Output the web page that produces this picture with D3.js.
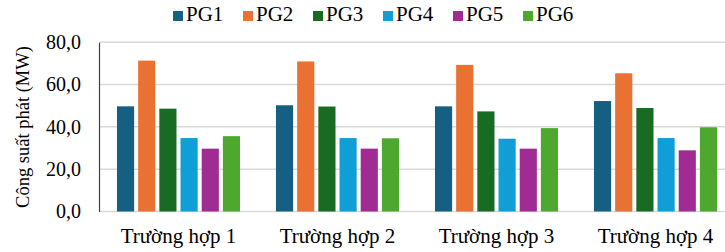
<!DOCTYPE html>
<html>
<head>
<meta charset="utf-8">
<script src="https://cdn.jsdelivr.net/npm/d3@7"></script>
<style>
  body {margin: 0; background: #fff;}
  text {font-family: "Liberation Serif", "Times New Roman", serif; fill: #000;}
</style>
</head>
<body>
<script>
var categories = ["Trường hợp 1", "Trường hợp 2", "Trường hợp 3", "Trường hợp 4"];
var seriesNames = ["PG1", "PG2", "PG3", "PG4", "PG5", "PG6"];
var colors = ["#156082", "#e97132", "#196b24", "#0f9ed5", "#a02b93", "#4ea72e"];
// one array per case, PG1..PG6
var case1 = [49.7, 71.3, 48.6, 34.7, 29.7, 35.6];
var case2 = [50.2, 70.9, 49.6, 34.7, 29.7, 34.6];
var case3 = [49.7, 69.3, 47.3, 34.4, 29.7, 39.4];
var case4 = [52.2, 65.3, 48.9, 34.7, 28.9, 39.8];
var yTicks = [0, 20, 40, 60, 80];

var values = [case1, case2, case3, case4];
var W = 725, H = 252;

var svg = d3.select("body").append("svg")
  .attr("width", W).attr("height", H);

var y = d3.scaleLinear().domain([0, 80]).range([211.5, 42.2]);
var x0 = d3.scaleBand().domain(categories).range([99, 735])
  .paddingInner(0.226).paddingOuter(0.113);
var x1 = d3.scaleBand().domain(seriesNames).range([0, x0.bandwidth()])
  .paddingInner(0.19).paddingOuter(0);

// gridlines
svg.append("g").selectAll("line")
  .data(yTicks)
  .enter().append("line")
  .attr("x1", 99).attr("x2", W)
  .attr("y1", function(d){ return y(d); })
  .attr("y2", function(d){ return y(d); })
  .attr("stroke", "#d9d9d9")
  .attr("stroke-width", 1.5);

// bars
var groups = svg.append("g").selectAll("g")
  .data(categories)
  .enter().append("g")
  .attr("transform", function(d){ return "translate(" + x0(d) + ",0)"; });

groups.selectAll("rect")
  .data(function(d, i){
    return values[i].map(function(v, j){ return {name: seriesNames[j], value: v, color: colors[j]}; });
  })
  .enter().append("rect")
  .attr("x", function(d){ return x1(d.name); })
  .attr("y", function(d){ return y(d.value); })
  .attr("width", x1.bandwidth())
  .attr("height", function(d){ return y(0) - y(d.value); })
  .attr("fill", function(d){ return d.color; });

// y axis
var yAxis = d3.axisLeft(y).tickValues(yTicks).tickSize(0).tickPadding(18)
  .tickFormat(function(d){ return d3.format(".1f")(d).replace(".", ","); });
var gy = svg.append("g").attr("transform", "translate(99,0)").call(yAxis);
gy.select(".domain").attr("stroke", "#404040").attr("stroke-width", 1.2);
gy.selectAll("text").attr("font-size", "20px")
  .style("font-family", "'Liberation Serif', 'Times New Roman', serif");

// x axis labels
var xAxis = d3.axisBottom(x0).tickSize(0).tickPadding(17);
var gx = svg.append("g").attr("transform", "translate(0," + y(0) + ")").call(xAxis);
gx.select(".domain").remove();
gx.selectAll("text").attr("font-size", "21px")
  .style("font-family", "'Liberation Serif', 'Times New Roman', serif");

// y title
svg.append("text")
  .attr("transform", "translate(29,127) rotate(-90)")
  .attr("text-anchor", "middle")
  .attr("font-size", "18.5px")
  .text("Công suất phát (MW)");

// legend
var legend = svg.append("g").selectAll("g")
  .data(seriesNames)
  .enter().append("g")
  .attr("transform", function(d, i){ return "translate(" + (173 + i * 70) + ",11)"; });
legend.append("rect")
  .attr("width", 10).attr("height", 10)
  .attr("fill", function(d, i){ return colors[i]; });
legend.append("text")
  .attr("x", 13).attr("y", 10)
  .attr("font-size", "21px")
  .text(function(d){ return d; });
</script>
</body>
</html>
